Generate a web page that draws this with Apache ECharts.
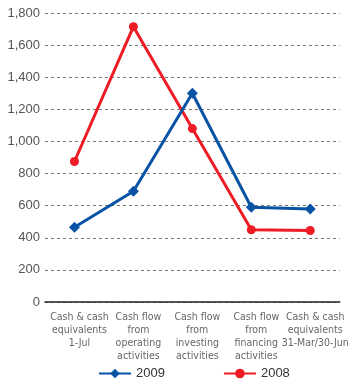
<!DOCTYPE html>
<html>
<head>
<meta charset="utf-8">
<script src="https://cdn.jsdelivr.net/npm/echarts@6/dist/echarts.min.js"></script>
<style>
  html, body { margin: 0; padding: 0; background: #fff; }
  #chart { width: 351px; height: 381px; }
</style>
</head>
<body>
<div id="chart"></div>
<script>
// Cash flow stages along the horizontal axis
const categories = [
  'Cash & cash\nequivalents\n1-Jul',
  'Cash flow\nfrom\noperating\nactivities',
  'Cash flow\nfrom\ninvesting\nactivities',
  'Cash flow\nfrom\nfinancing\nactivities',
  'Cash & cash\nequivalents\n31-Mar/30-Jun'
];
const values2009 = [465, 690, 1300, 590, 580];
const values2008 = [875, 1715, 1080, 450, 445];
const yTicks = { min: 0, max: 1800, interval: 200 };

const labelFont = '"DejaVu Sans Condensed", "Liberation Sans", sans-serif';
const tickFont = '"Liberation Sans", Arial, sans-serif';

const chart = echarts.init(document.getElementById('chart'), null, { renderer: 'canvas' });
chart.setOption({
  animation: false,
  grid: { left: 45, right: 3, top: 13, bottom: 79 },
  legend: {
    left: 93,
    top: 362,
    itemWidth: 32,
    itemHeight: 12,
    itemGap: 58,
    textStyle: { color: '#333', fontSize: 13, fontFamily: tickFont },
    data: ['2009', '2008']
  },
  xAxis: {
    type: 'category',
    data: categories,
    boundaryGap: true,
    z: 5,
    axisLine: { lineStyle: { color: '#222', width: 1.5 } },
    axisTick: { show: false },
    axisLabel: {
      interval: 0,
      margin: 9,
      padding: [0, 0, 0, 10],
      color: '#666',
      fontSize: 10.5,
      lineHeight: 13,
      fontFamily: labelFont
    }
  },
  yAxis: {
    type: 'value',
    min: yTicks.min,
    max: yTicks.max,
    interval: yTicks.interval,
    axisLine: { show: false },
    axisTick: { show: false },
    axisLabel: {
      margin: 5,
      color: '#555',
      fontSize: 13,
      fontFamily: tickFont,
      formatter: v => v.toLocaleString('en-US')
    },
    splitLine: { lineStyle: { color: '#777', type: [3, 3], width: 1 } }
  },
  series: [
    {
      name: '2009',
      type: 'line',
      data: values2009,
      symbol: 'diamond',
      symbolSize: 11,
      itemStyle: { color: '#0953A4' },
      lineStyle: { color: '#0953A4', width: 3 },
      z: 3
    },
    {
      name: '2008',
      type: 'line',
      data: values2008,
      symbol: 'circle',
      symbolSize: 9,
      itemStyle: { color: '#EE1C25' },
      lineStyle: { color: '#EE1C25', width: 3 },
      z: 2
    }
  ]
});
</script>
</body>
</html>
